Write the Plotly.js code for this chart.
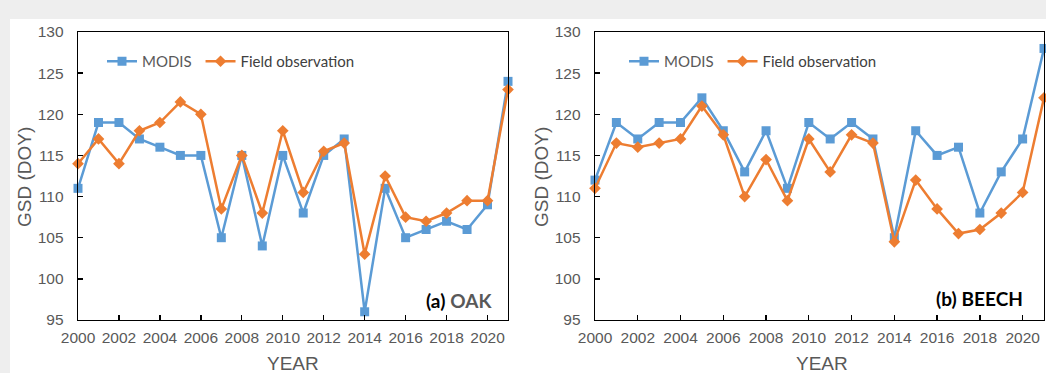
<!DOCTYPE html>
<html>
<head>
<meta charset="utf-8">
<script src="https://cdn.plot.ly/plotly-3.0.1.min.js"></script>
<style>
  html, body { margin: 0; padding: 0; background: #eeeeee; }
  #chart { width: 1046px; height: 373px; }
</style>
</head>
<body>
<div id="chart"></div>
<script>
// Green-up start date (GSD, day of year) by year, MODIS vs. field observation
const years = [2000, 2001, 2002, 2003, 2004, 2005, 2006, 2007, 2008, 2009, 2010,
               2011, 2012, 2013, 2014, 2015, 2016, 2017, 2018, 2019, 2020, 2021];

const oakModis = [111, 119, 119, 117, 116, 115, 115, 105, 115, 104, 115,
                  108, 115, 117, 96, 111, 105, 106, 107, 106, 109, 124];
const oakField = [114, 117, 114, 118, 119, 121.5, 120, 108.5, 115, 108, 118,
                  110.5, 115.5, 116.5, 103, 112.5, 107.5, 107, 108, 109.5, 109.5, 123];

const beechModis = [112, 119, 117, 119, 119, 122, 118, 113, 118, 111, 119,
                    117, 119, 117, 105, 118, 115, 116, 108, 113, 117, 128];
const beechField = [111, 116.5, 116, 116.5, 117, 121, 117.5, 110, 114.5, 109.5, 117,
                    113, 117.5, 116.5, 104.5, 112, 108.5, 105.5, 106, 108, 110.5, 122];

const seriesNames = ['MODIS', 'Field observation'];
const xTickVals = [2000, 2002, 2004, 2006, 2008, 2010, 2012, 2014, 2016, 2018, 2020];
const yTickVals = [95, 100, 105, 110, 115, 120, 125, 130];
const xTitle = 'YEAR';
const yTitle = 'GSD (DOY)';

const BLUE = '#5b9bd5';
const ORANGE = '#ed7d31';
const GREY = '#595959';

// legend label for MODIS is drawn in grey, with a little trailing room
const modisLabel = '<span style="color:#595959">' + seriesNames[0] + '</span>&nbsp;';

function series(x, y, name, color, symbol, xa, ya, legend) {
  return {
    x: x, y: y, name: name, type: 'scatter', mode: 'lines+markers',
    xaxis: xa, yaxis: ya, legend: legend, cliponaxis: false,
    line: { color: color, width: 2.5 },
    marker: { color: color, symbol: symbol, size: 9 }
  };
}

const traces = [
  series(years, oakModis, modisLabel, BLUE, 'square', 'x', 'y', 'legend'),
  series(years, oakField, seriesNames[1], ORANGE, 'diamond', 'x', 'y', 'legend'),
  series(years, beechModis, modisLabel, BLUE, 'square', 'x2', 'y2', 'legend2'),
  series(years, beechField, seriesNames[1], ORANGE, 'diamond', 'x2', 'y2', 'legend2')
];

const W = 1046, H = 373;
const tickFont = { family: 'Liberation Sans, Arial, sans-serif', size: 15.5, color: GREY };
const titleFont = { family: 'Liberation Sans, Arial, sans-serif', size: 19, color: GREY };

function xAxis(domain, anchor) {
  return {
    domain: domain, anchor: anchor, range: [2000, 2021],
    tickvals: xTickVals, ticks: 'inside', ticklen: 5, tickwidth: 1.3, tickcolor: '#000',
    showline: true, linecolor: '#000', linewidth: 1.3, mirror: true,
    showgrid: false, zeroline: false, tickfont: tickFont, ticklabelstandoff: 3
  };
}
function yAxis(domain, anchor) {
  return {
    domain: domain, anchor: anchor, range: [95, 130],
    tickvals: yTickVals, ticks: 'inside', ticklen: 5, tickwidth: 1.3, tickcolor: '#000',
    showline: true, linecolor: '#000', linewidth: 1.3, mirror: true,
    showgrid: false, zeroline: false, tickfont: tickFont, ticklabelstandoff: 10
  };
}

const yDom = [1 - 320 / H, 1 - 32 / H];
const legendFont = { family: 'Lato, Open Sans, sans-serif', size: 15, color: '#404040' };

function axisTitle(text, xPx, yPx, angle) {
  return {
    xref: 'paper', yref: 'paper', x: xPx / W, y: 1 - yPx / H,
    xanchor: 'center', yanchor: 'middle', showarrow: false,
    text: text, textangle: angle, font: titleFont
  };
}

const layout = {
  width: W, height: H,
  margin: { l: 0, r: 0, t: 0, b: 0 },
  paper_bgcolor: '#eeeeee', plot_bgcolor: 'rgba(0,0,0,0)',
  showlegend: true,
  xaxis: xAxis([78 / W, 508 / W], 'y'),
  yaxis: yAxis(yDom, 'x'),
  xaxis2: xAxis([595 / W, 1044 / W], 'y2'),
  yaxis2: yAxis(yDom, 'x2'),
  legend: {
    orientation: 'h', x: 102 / W, y: 1 - 45 / H, xanchor: 'left', yanchor: 'top',
    bgcolor: 'rgba(0,0,0,0)', font: legendFont, traceorder: 'normal'
  },
  legend2: {
    orientation: 'h', x: 624 / W, y: 1 - 45 / H, xanchor: 'left', yanchor: 'top',
    bgcolor: 'rgba(0,0,0,0)', font: legendFont, traceorder: 'normal'
  },
  shapes: [
    // white figure sheet behind both panels
    { type: 'rect', xref: 'paper', yref: 'paper', x0: 10 / W, x1: 1, y0: 0, y1: 1 - 19 / H,
      fillcolor: '#ffffff', line: { width: 0 }, layer: 'below' }
  ],
  annotations: [
    axisTitle(yTitle, 24, 177, -90),
    axisTitle(yTitle, 541, 177, -90),
    axisTitle(xTitle, 293, 363, 0),
    axisTitle(xTitle, 822, 363, 0),
    { xref: 'paper', yref: 'paper', x: 494 / W, y: 1 - 300 / H, xanchor: 'right', yanchor: 'middle',
      showarrow: false, text: '<b>(a)</b> <b><span style="color:#595959">OAK</span></b>',
      font: { family: 'Lato, Open Sans, sans-serif', size: 19, color: '#000' } },
    { xref: 'paper', yref: 'paper', x: 1025 / W, y: 1 - 298 / H, xanchor: 'right', yanchor: 'middle',
      showarrow: false, text: '<b>(b)</b> <b>BEECH</b>',
      font: { family: 'Lato, Open Sans, sans-serif', size: 19, color: '#000' } }
  ]
};

Plotly.newPlot('chart', traces, layout, { displayModeBar: false, staticPlot: true });
</script>
</body>
</html>
